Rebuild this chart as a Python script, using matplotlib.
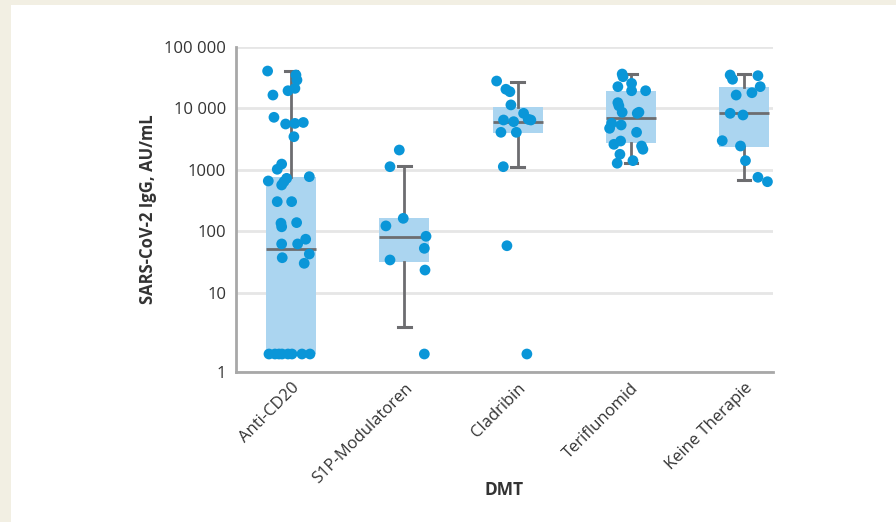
import numpy as np
import matplotlib
matplotlib.use('Agg')
import matplotlib.pyplot as plt
from matplotlib.patches import Rectangle

# Categories
groups = ['Anti-CD20', 'S1P-Modulatoren', 'Cladribin', 'Teriflunomid', 'Keine Therapie']

# Individual values (AU/mL); 1 = below detection
anti_cd20 = [40600, 35000, 29000, 21200, 19400, 16500, 7160, 5570, 5700, 5900, 3460,
             1240, 1020, 726, 658, 566, 773, 640, 303, 303, 135, 118, 138,
             62, 62, 74, 42.5, 37, 30, 1, 1, 1, 1, 1, 1, 1, 1]
s1p = [2100, 1124, 162, 122, 82.6, 52.6, 34, 23.3, 1]
cladribin = [27900, 20500, 18700, 11400, 8310, 6470, 6080, 6640, 6470, 4080, 4080,
             1124, 58, 1]
teriflunomid = [36300, 32800, 22600, 25600, 19400, 19400, 12400, 11000, 8650, 8310,
                8650, 4740, 5720, 5370, 4080, 2940, 2600, 2440, 2160, 1790, 1410, 1280]
keine = [35000, 29800, 34100, 22600, 18000, 16500, 8310, 7810, 2980, 2440, 1410, 755, 640]

# horizontal jitter of each dot (in category units)
jit_anti = [-0.206, 0.044, 0.053, 0.035, -0.026, -0.159, -0.150, -0.047, 0.035, 0.109, 0.026,
            -0.082, -0.121, -0.038, -0.200, -0.082, 0.162, -0.062, -0.121, 0.006, -0.088, -0.082, 0.050,
            -0.082, 0.059, 0.130, 0.162, -0.077, 0.117, -0.194, -0.141, -0.079, -0.026, 0.009, 0.097, 0.168, -0.106]
jit_s1p = [-0.044, -0.126, -0.009, -0.162, 0.192, 0.177, -0.126, 0.183, 0.177]
jit_clad = [-0.185, -0.103, -0.068, -0.059, 0.053, -0.124, -0.035, 0.094, 0.117, -0.147, -0.011,
            -0.126, -0.094, 0.082]
jit_teri = [-0.077, -0.070, -0.115, 0.006, 0.006, 0.130, -0.115, -0.106, -0.077, 0.056,
            0.071, -0.188, -0.170, -0.086, 0.050, -0.091, -0.150, 0.094, 0.106, -0.097, 0.018, -0.121]
jit_keine = [-0.124, -0.103, 0.121, 0.141, 0.068, -0.071, -0.124, -0.011, -0.194, -0.033, 0.011, 0.121, 0.205]

# box summary (q1, median, q3, lower whisker, upper whisker)
q1 = [1, 31.9, 4030, 2700, 2380]
med = [50.7, 81.5, 6080, 6900, 8520]
q3 = [773, 162, 10400, 19200, 22000]
whis_lo = [1, 2.72, 1110, 1306, 682]
whis_hi = [40600, 1153, 26900, 35900, 35900]

y_ticks = [0.515, 10, 100, 1000, 10000, 100000]
y_ticklabels = ['1', '10', '100', '1000', '10 000', '100 000']

values = [anti_cd20, s1p, cladribin, teriflunomid, keine]
jitters = [jit_anti, jit_s1p, jit_clad, jit_teri, jit_keine]

dot_color = '#0a96d8'
box_color = '#abd5f0'
line_color = '#6d6d70'
text_color = '#333333'

plt.rcParams['font.family'] = ['Open Sans', 'DejaVu Sans']

fig = plt.figure(figsize=(8.96, 5.22), dpi=100)
fig.patch.set_facecolor('#f2efe3')
fig.patches.append(Rectangle((11 / 896, 0), 1, (522 - 5) / 522, transform=fig.transFigure,
                             facecolor='white', edgecolor='none', zorder=-10))

ax = fig.add_axes([236 / 896, 150.3 / 522, 537 / 896, 324.7 / 522])
ax.set_facecolor('none')

stats = []
for i in range(len(groups)):
    stats.append(dict(q1=q1[i], med=med[i], q3=q3[i], whislo=whis_lo[i], whishi=whis_hi[i], fliers=[]))

ax.bxp(stats, positions=range(len(groups)), widths=0.44, capwidths=0.11,
       patch_artist=True, showfliers=False,
       boxprops=dict(facecolor=box_color, edgecolor='none'),
       medianprops=dict(color=line_color, linewidth=2),
       whiskerprops=dict(color=line_color, linewidth=2),
       capprops=dict(color=line_color, linewidth=2.2))

for i, (vals, jit) in enumerate(zip(values, jitters)):
    x = i + np.array(jit)
    ax.scatter(x, vals, s=60, color=dot_color, edgecolors='none', zorder=5, clip_on=False)

ax.set_yscale('log')
ax.set_ylim(0.515, 100000)
ax.set_xlim(-0.485, 4.254)
ax.set_yticks(y_ticks)
ax.set_yticklabels(y_ticklabels)
ax.minorticks_off()
ax.yaxis.grid(True, color='#e6e6e6', linewidth=2)
ax.set_axisbelow(True)

ax.set_xticks(range(len(groups)))
ax.set_xticklabels(groups, rotation=45, ha='right', rotation_mode='anchor')
ax.tick_params(axis='both', length=0, colors=text_color, labelsize=12)
ax.tick_params(axis='y', pad=7)
ax.tick_params(axis='x', pad=6)

for s in ['top', 'right']:
    ax.spines[s].set_visible(False)
for s in ['left', 'bottom']:
    ax.spines[s].set_color('#a8a8a8')
    ax.spines[s].set_linewidth(2)

ax.set_ylabel('SARS-CoV-2 IgG, AU/mL', fontsize=12, fontweight='bold', color=text_color, labelpad=5)
ax.set_xlabel('DMT', fontsize=12.5, fontweight='bold', color=text_color, labelpad=-4)

fig.savefig('out.png', dpi=100, facecolor=fig.get_facecolor())
